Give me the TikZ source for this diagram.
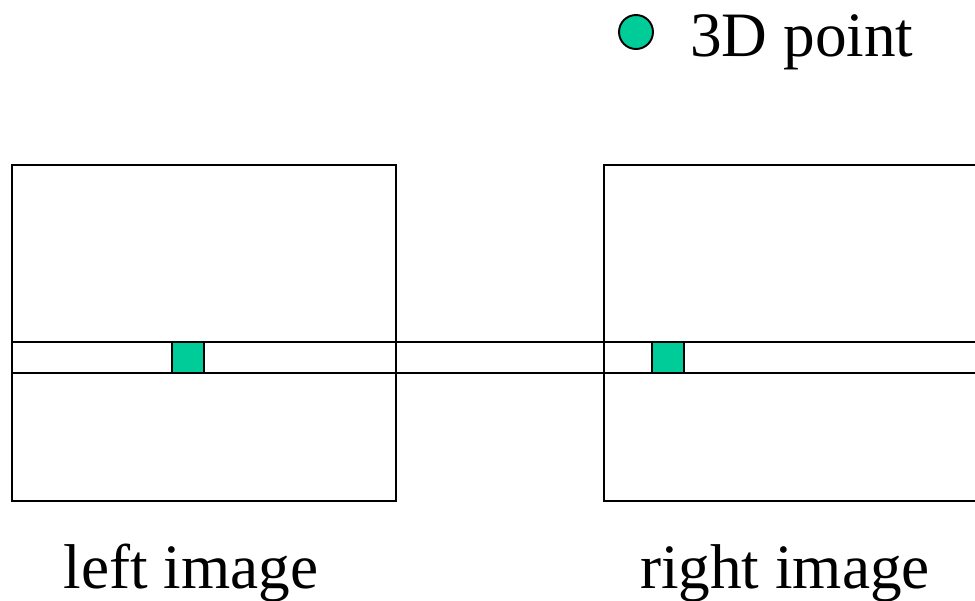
\documentclass[tikz,border=0pt]{standalone}
\usepackage{fontspec}
\setmainfont{Liberation Serif}
\definecolor{ptgreen}{RGB}{0,204,153}
\tikzset{frame/.style={draw=black,line width=1.1pt},
  label text/.style={font=\fontsize{36}{40}\selectfont,inner sep=0pt}}
\begin{document}
\begin{tikzpicture}[x=0.02cm,y=-0.02cm]
        \useasboundingbox (0,0) rectangle (975,600);
        \clip (0,0) rectangle (975,600);
        % legend
        \node [circle,draw,line width=1.1pt,fill=ptgreen,minimum size=0.68cm,inner sep=0pt] (dot) at (636,32) {};
        \node [label text,anchor=base west] (legend) at (690,56) {3D point};
        % the two images
        \draw [frame] (12,165) rectangle (396,501);
        \draw [frame] (604,165) rectangle (1000,501);
        % the scan line through both
        \draw [frame] (12,342)--(980,342);
        \draw [frame] (12,373)--(980,373);
        \draw [frame,fill=ptgreen] (172,342) rectangle (204,373);
        \draw [frame,fill=ptgreen] (652,342) rectangle (684,373);
        \node [label text,anchor=base] (left) at (191,588) {left image};
        \node [label text,anchor=base] (right) at (785,588) {right image};
    \end{tikzpicture}
\end{document}
